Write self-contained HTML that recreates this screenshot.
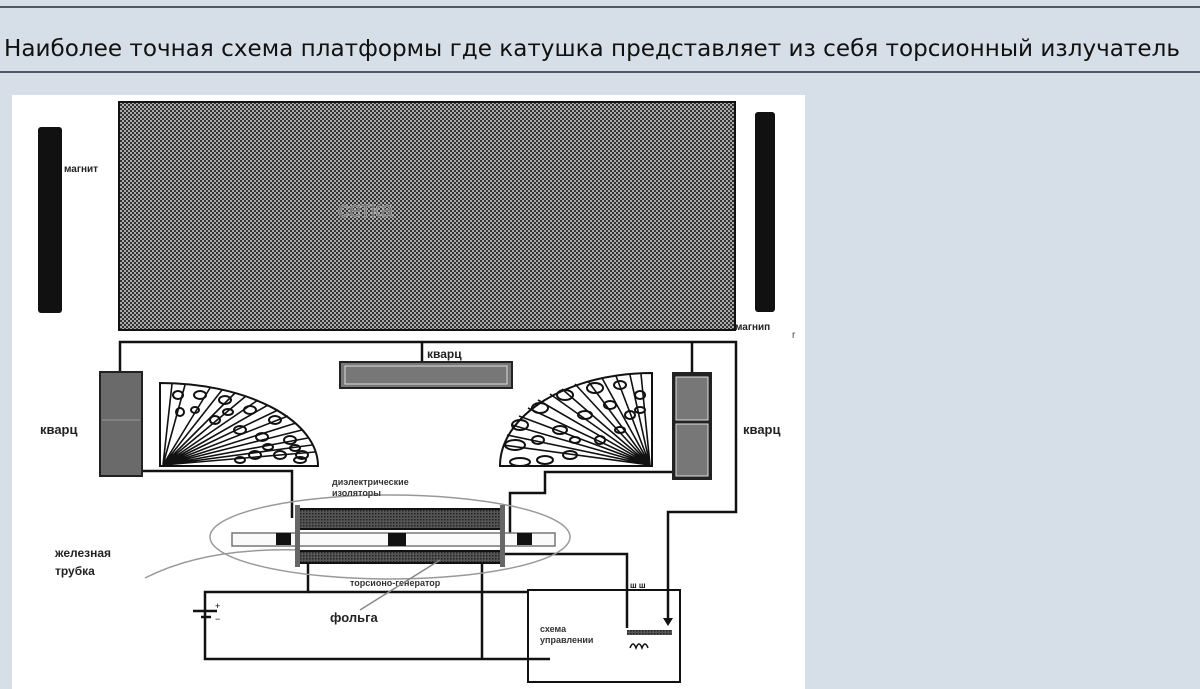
<!DOCTYPE html>
<html><head><meta charset="utf-8"><style>
body{margin:0;width:1200px;height:689px;background:#d6dee7;overflow:hidden;font-family:"Liberation Sans",sans-serif}
.t{position:absolute;left:4px;top:36px;font-family:"DejaVu Sans","Liberation Sans",sans-serif;font-size:23.1px;color:#111;white-space:nowrap}
</style></head><body>
<div style="position:absolute;left:0;top:6px;width:1200px;height:2px;background:#505868"></div>
<div class="t">Наиболее точная схема платформы где катушка представляет из себя торсионный излучатель</div>
<div style="position:absolute;left:0;top:71px;width:1200px;height:2px;background:#505868"></div>
<svg style="position:absolute;left:0;top:0" width="1200" height="689" font-family="Liberation Sans,sans-serif">
<defs>
<pattern id="ck" width="4" height="4" patternUnits="userSpaceOnUse"><rect width="4" height="4" fill="#aaa"/><rect width="2" height="2" fill="#333"/><rect x="2" y="2" width="2" height="2" fill="#333"/></pattern>
<pattern id="hz" width="3" height="3" patternUnits="userSpaceOnUse"><rect width="3" height="3" fill="#555"/><rect width="1.5" height="1.5" fill="#222"/></pattern>
</defs>
<rect x="12" y="95" width="793" height="594" fill="#fff"/>
<rect x="38" y="127" width="24" height="186" rx="3" fill="#111"/>
<rect x="755" y="112" width="20" height="200" rx="3" fill="#111"/>
<rect x="119" y="102" width="616" height="228" fill="url(#ck)" stroke="#111" stroke-width="2"/>
<text x="338" y="217" font-size="22" fill="#777" stroke="#ddd" stroke-width="0.6" paint-order="stroke">сетка</text>
<text x="64" y="172" font-size="10" fill="#222" font-weight="bold">магнит</text>
<text x="735" y="330" font-size="10" fill="#222" font-weight="bold">магнип</text>
<text x="792" y="338" font-size="10" fill="#444">r</text>
<g stroke="#111" stroke-width="2.5" fill="none">
<polyline points="120,378 120,342 736,342 736,512 668,512 668,620"/>
<line x1="422" y1="342" x2="422" y2="372"/>
<line x1="692" y1="342" x2="692" y2="380"/>
<polyline points="120,471 292,471 292,518"/>
<polyline points="692,472 545,472 545,493 510,493 510,540"/>
<polyline points="308,563 308,592 205,592 205,659 550,659"/>
<line x1="308" y1="592" x2="528" y2="592"/>
<line x1="482" y1="556" x2="482" y2="659"/>
<polyline points="502,554 627,554 627,628"/>
<rect x="528" y="590" width="152" height="92" stroke-width="2"/>
</g>
<rect x="340" y="362" width="172" height="26" fill="#777" stroke="#222" stroke-width="2"/>
<rect x="345" y="366" width="162" height="18" fill="#777" stroke="#ddd" stroke-width="1"/>
<rect x="100" y="372" width="42" height="104" fill="#6a6a6a" stroke="#222" stroke-width="2"/>
<line x1="102" y1="420" x2="140" y2="420" stroke="#999"/>
<rect x="672" y="372" width="40" height="108" fill="#222"/>
<rect x="676" y="377" width="32" height="43" fill="#777" stroke="#ddd"/>
<rect x="676" y="424" width="32" height="52" fill="#777" stroke="#ddd"/>
<text x="40" y="434" font-size="13" fill="#222" font-weight="bold">кварц</text>
<text x="743" y="434" font-size="13" fill="#222" font-weight="bold">кварц</text>
<text x="427" y="358" font-size="12" fill="#222" font-weight="bold">кварц</text>
<g stroke="#111" stroke-width="2" fill="#fff">
<path d="M160,466 L160,383 A158,83 0 0 1 318,466 Z"/>
<path d="M652,466 L652,373 A152,93 0 0 0 500,466 Z"/>
</g>
<g stroke="#111" stroke-width="1.6" fill="none">
<path d="M163,465 L185,385 M163,465 L210,388 M163,465 L235,393 M163,465 L258,400 M163,465 L278,410 M163,465 L296,423 M163,465 L308,438 M163,465 L315,452 M163,465 L172,384 M163,465 L222,390 M163,465 L246,396 M163,465 L268,405 M163,465 L288,416 M163,465 L302,430 M163,465 L312,445"/>
<path d="M650,465 L630,375 M650,465 L602,378 M650,465 L575,384 M650,465 L550,394 M650,465 L528,408 M650,465 L512,425 M650,465 L503,445 M650,465 L641,374 M650,465 L616,376 M650,465 L588,381 M650,465 L562,389 M650,465 L538,400 M650,465 L519,416 M650,465 L507,435"/>
<g stroke-width="2">
<ellipse cx="178" cy="395" rx="5" ry="4"/><ellipse cx="200" cy="395" rx="6" ry="4"/><ellipse cx="225" cy="400" rx="6" ry="4"/><ellipse cx="250" cy="410" rx="6" ry="4"/><ellipse cx="275" cy="420" rx="6" ry="4"/><ellipse cx="290" cy="440" rx="6" ry="4"/><ellipse cx="302" cy="455" rx="6" ry="4"/><ellipse cx="280" cy="455" rx="6" ry="4"/><ellipse cx="255" cy="455" rx="6" ry="4"/><ellipse cx="240" cy="430" rx="6" ry="4"/><ellipse cx="215" cy="420" rx="5" ry="4"/><ellipse cx="262" cy="437" rx="6" ry="4"/><ellipse cx="180" cy="412" rx="4" ry="4"/><ellipse cx="240" cy="460" rx="5" ry="3"/><ellipse cx="195" cy="410" rx="4" ry="3"/><ellipse cx="228" cy="412" rx="5" ry="3"/><ellipse cx="268" cy="447" rx="5" ry="3"/><ellipse cx="295" cy="448" rx="5" ry="3"/><ellipse cx="300" cy="460" rx="6" ry="3"/>
<ellipse cx="620" cy="385" rx="6" ry="4"/><ellipse cx="595" cy="388" rx="8" ry="5"/><ellipse cx="565" cy="395" rx="8" ry="5"/><ellipse cx="540" cy="408" rx="8" ry="5"/><ellipse cx="520" cy="425" rx="8" ry="5"/><ellipse cx="515" cy="445" rx="10" ry="5"/><ellipse cx="520" cy="462" rx="10" ry="4"/><ellipse cx="545" cy="460" rx="8" ry="4"/><ellipse cx="570" cy="455" rx="7" ry="4"/><ellipse cx="560" cy="430" rx="7" ry="4"/><ellipse cx="585" cy="415" rx="7" ry="4"/><ellipse cx="610" cy="405" rx="6" ry="4"/><ellipse cx="640" cy="395" rx="5" ry="4"/><ellipse cx="630" cy="415" rx="5" ry="4"/><ellipse cx="600" cy="440" rx="5" ry="4"/><ellipse cx="538" cy="440" rx="6" ry="4"/><ellipse cx="575" cy="440" rx="5" ry="3"/><ellipse cx="620" cy="430" rx="5" ry="3"/><ellipse cx="640" cy="410" rx="5" ry="3"/>
</g>
</g>
<ellipse cx="390" cy="537" rx="180" ry="42" fill="none" stroke="#999" stroke-width="1.5"/>
<path d="M145,578 C180,560 230,548 300,550" fill="none" stroke="#999" stroke-width="1.5"/>
<rect x="232" y="533" width="323" height="13" fill="#fafafa" stroke="#777" stroke-width="1.5"/>
<rect x="298" y="509" width="204" height="20" fill="url(#hz)" stroke="#111" stroke-width="2"/>
<rect x="298" y="551" width="204" height="12" fill="url(#hz)" stroke="#111" stroke-width="2"/>
<rect x="295" y="505" width="5" height="62" fill="#666"/><rect x="500" y="505" width="5" height="62" fill="#666"/>
<rect x="276" y="533" width="15" height="12" fill="#111"/><rect x="388" y="533" width="18" height="13" fill="#111"/><rect x="517" y="533" width="15" height="12" fill="#111"/>
<text x="332" y="485" font-size="9" fill="#333" font-weight="bold">диэлектрические</text>
<text x="332" y="496" font-size="9" fill="#333" font-weight="bold">изоляторы</text>
<text x="350" y="586" font-size="9" fill="#333" font-weight="bold">торсионо-генератор</text>
<line x1="360" y1="610" x2="440" y2="560" stroke="#888" stroke-width="1.5"/>
<text x="330" y="622" font-size="13" fill="#222" font-weight="bold">фольга</text>
<text x="55" y="557" font-size="12" fill="#222" font-weight="bold">железная</text>
<text x="55" y="575" font-size="12" fill="#222" font-weight="bold">трубка</text>
<text x="540" y="632" font-size="9" fill="#333" font-weight="bold">схема</text>
<text x="540" y="643" font-size="9" fill="#333" font-weight="bold">управлении</text>
<g stroke="#111" stroke-width="2.5"><line x1="193" y1="611" x2="217" y2="611"/><line x1="201" y1="617" x2="211" y2="617"/></g>
<text x="215" y="609" font-size="9">+</text><text x="215" y="622" font-size="9">−</text>
<rect x="627" y="630" width="45" height="5" fill="url(#hz)"/>
<path d="M630,648 q3,-8 6,0 q3,-8 6,0 q3,-8 6,0" fill="none" stroke="#111" stroke-width="1.5"/>
<path d="M663,618 l10,0 l-5,8 z" fill="#111"/>
<text x="630" y="588" font-size="8" fill="#111" font-weight="bold">ш ш</text>
</svg>
</body></html>
